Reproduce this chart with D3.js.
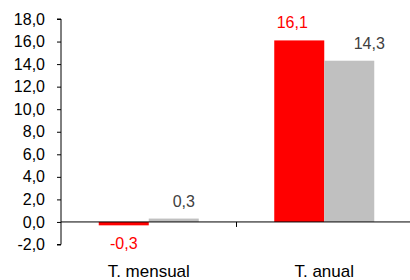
<!DOCTYPE html>
<html>
<head>
<meta charset="utf-8">
<script src="https://cdn.jsdelivr.net/npm/d3@7"></script>
<style>
  body { margin: 0; background: #fff; }
  text { font-family: "Liberation Sans", Arial, sans-serif; }
</style>
</head>
<body>
<svg id="chart" width="410" height="280"></svg>
<script>
// chart data
var categories = ["T. mensual", "T. anual"];
var seriesNames = ["serie1", "serie2"];
var serie1 = [-0.3, 16.1];
var serie2 = [0.3, 14.3];
var yTicks = [-2, 0, 2, 4, 6, 8, 10, 12, 14, 16, 18];

var colors = { serie1: "#ff0000", serie2: "#c0c0c0" };
var labelColors = { serie1: "#ff0000", serie2: "#404040" };
// label nudges (as in the original, labels are not all centred)
var labelDx = { serie1: [0, -7], serie2: [10, 20] };

var svg = d3.select("#chart");
var fmt = function(v) { return d3.format(".1f")(v).replace(".", ",").replace("−", "-"); };

var y = d3.scaleLinear().domain([-2, 18]).range([244.5, 19]);
var x0 = d3.scaleBand().domain(categories).range([61, 412]).padding(0);
var x1 = d3.scaleBand().domain(seriesNames).range([0, x0.bandwidth()]).paddingInner(0).paddingOuter(0.755);

var rows = categories.map(function(c, i) {
    return { cat: c, values: [ { key: "serie1", v: serie1[i] }, { key: "serie2", v: serie2[i] } ], idx: i };
});

// bars
var groups = svg.append("g").selectAll("g")
    .data(rows)
    .enter().append("g")
    .attr("transform", function(d) { return "translate(" + x0(d.cat) + ",0)"; });

groups.selectAll("rect")
    .data(function(d) { return d.values; })
    .enter().append("rect")
    .attr("x", function(d) { return x1(d.key); })
    .attr("width", x1.bandwidth())
    .attr("y", function(d) { return y(Math.max(0, d.v)); })
    .attr("height", function(d) { return Math.abs(y(d.v) - y(0)); })
    .attr("fill", function(d) { return colors[d.key]; });

// value labels
groups.each(function(row) {
    d3.select(this).selectAll("text.val")
        .data(row.values)
        .enter().append("text")
        .attr("class", "val")
        .attr("x", function(d) { return x1(d.key) + x1.bandwidth() / 2 + labelDx[d.key][row.idx]; })
        .attr("y", function(d) { return d.v >= 0 ? y(d.v) - 12 : y(d.v) + 24; })
        .attr("text-anchor", "middle")
        .attr("font-size", "16px")
        .attr("fill", function(d) { return labelColors[d.key]; })
        .text(function(d) { return fmt(d.v); });
});

// y axis
var yAxis = svg.append("g")
    .attr("transform", "translate(61,0)")
    .call(d3.axisLeft(y).tickValues(yTicks).tickSize(4).tickPadding(12).tickFormat(fmt));
yAxis.selectAll("text").attr("font-size", "16px").attr("fill", "#000").attr("font-family", "Liberation Sans, Arial, sans-serif");
yAxis.selectAll("line, path").attr("stroke", "#000");
yAxis.select(".domain").attr("d", "M-4," + y(-2) + "H0V" + y(18) + "H-4");

// x axis at zero
var xAxisG = svg.append("g").attr("transform", "translate(0," + y(0) + ")");
xAxisG.append("line")
    .attr("x1", 61).attr("x2", 410)
    .attr("stroke", "#000");
xAxisG.selectAll("line.tick")
    .data(categories.slice(1))
    .enter().append("line")
    .attr("class", "tick")
    .attr("x1", function(d) { return x0(d); })
    .attr("x2", function(d) { return x0(d); })
    .attr("y1", 0).attr("y2", 5)
    .attr("stroke", "#000");

// category labels
svg.append("g").selectAll("text")
    .data(categories)
    .enter().append("text")
    .attr("x", function(d) { return x0(d) + x0.bandwidth() / 2; })
    .attr("y", 277)
    .attr("text-anchor", "middle")
    .attr("font-size", "17px")
    .attr("fill", "#000")
    .text(function(d) { return d; });
</script>
</body>
</html>
